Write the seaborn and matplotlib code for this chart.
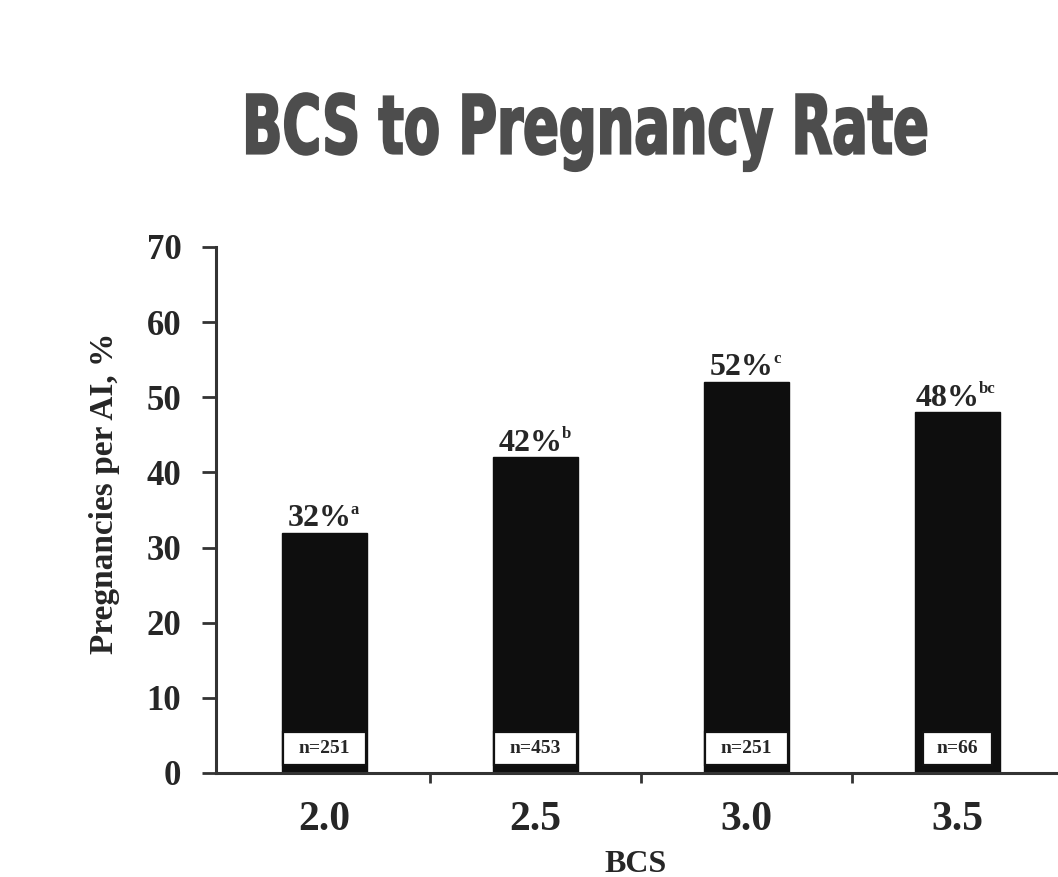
import matplotlib
matplotlib.use("Agg")
import matplotlib.pyplot as plt
from matplotlib.patheffects import AbstractPathEffect
from matplotlib.transforms import Affine2D
from matplotlib.patches import Rectangle
import seaborn as sns
import pandas as pd

# Data
bcs = ["2.0", "2.5", "3.0", "3.5"]
rate = [32, 42, 52, 48]
letters = ["a", "b", "c", "bc"]
counts = [251, 453, 251, 66]
yticks = [0, 10, 20, 30, 40, 50, 60, 70]


class Reshape(AbstractPathEffect):
    """Scale glyph outlines about the text's horizontal centre and baseline,
    optionally thickening them with an outline of the fill colour."""

    def __init__(self, sx=1.0, sy=1.0, stroke=0.0):
        super().__init__()
        self.sx, self.sy, self.stroke = sx, sy, stroke

    def draw_path(self, renderer, gc, tpath, affine, rgbFace=None):
        ext = tpath.get_extents()
        cx = 0.5 * (ext.x0 + ext.x1)
        t = (Affine2D().translate(-cx, 0).scale(self.sx, self.sy)
             .translate(cx, 0) + affine)
        gc0 = renderer.new_gc()
        gc0.copy_properties(gc)
        if self.stroke > 0 and rgbFace is not None:
            gc0.set_linewidth(self.stroke)
            gc0.set_foreground(rgbFace)
            gc0.set_joinstyle("miter")
        renderer.draw_path(gc0, tpath, t, rgbFace)
        gc0.restore()


sns.set_theme(style="white")
plt.rcParams["font.family"] = ["Liberation Serif", "DejaVu Serif"]

TXT = "#262626"
df = pd.DataFrame({"BCS": bcs, "rate": rate})

fig = plt.figure(figsize=(10.58, 8.77), dpi=100)
ax = fig.add_axes([0.2042, 0.1186, 0.7958, 0.5998])

sns.barplot(data=df, x="BCS", y="rate", color="#0e0e0e", width=0.40,
            saturation=1, edgecolor="#0e0e0e", ax=ax)

ax.set_ylim(0, 70)
ax.set_xlim(-0.514, 3.476)
ax.set_yticks(yticks)
ax.set_yticklabels([str(v) for v in yticks], fontsize=25, fontweight="bold",
                   color=TXT)

# tick marks sit between categories; labels sit under the bars
ax.set_xticks([0.5, 1.5, 2.5])
ax.set_xticklabels([])
ax.set_xticks(range(len(bcs)), minor=True)
ax.set_xticklabels(bcs, minor=True, fontsize=30, fontweight="bold", color=TXT)
ax.tick_params(axis="x", which="major", direction="out", length=7, width=2,
               color="#333333", bottom=True)
ax.tick_params(axis="x", which="minor", length=0, pad=20, bottom=True)
ax.tick_params(axis="y", direction="out", length=10, width=2,
               color="#333333", left=True, pad=15)

for side in ["top", "right"]:
    ax.spines[side].set_visible(False)
for side in ["left", "bottom"]:
    ax.spines[side].set_color("#333333")
    ax.spines[side].set_linewidth(2.2)

ax.set_xlabel("BCS", fontsize=23, fontweight="bold", color=TXT)
ax.xaxis.set_label_coords(0.498, -0.146)
ax.set_ylabel("Pregnancies per AI, %", fontsize=24, fontweight="bold",
              color=TXT)
ax.yaxis.set_label_coords(-0.114, 0.532)

# value labels with significance letters
for i, (v, l) in enumerate(zip(rate, letters)):
    main = ax.annotate(f"{v}%", xy=(i, v + 0.9), xytext=(-3.5 * len(l), 0),
                       textcoords="offset points", ha="center",
                       va="baseline", fontsize=23, fontweight="bold",
                       color=TXT)
    ax.annotate(l, xy=(1.0, 0.80), xycoords=main, xytext=(-0.5, 0),
                textcoords="offset points", ha="left", va="center",
                fontsize=12, fontweight="bold", color=TXT)

# sample sizes in white boxes near the base of each bar
for i, n in enumerate(counts):
    label = f"n={n}"
    box_w = 0.063 * len(label) + 0.075
    ax.add_patch(Rectangle((i - box_w / 2, 1.05), box_w, 4.4,
                           facecolor="white", edgecolor="#111111",
                           linewidth=1.6, zorder=3))
    ax.text(i, 3.2, label, ha="center", va="center", fontsize=14,
            fontweight="bold", color=TXT, zorder=4)

title = fig.text(0.553, 0.825, "BCS to Pregnancy Rate", ha="center",
                 va="baseline", fontsize=40, fontweight="bold",
                 color="#4d4d4d", family=["DejaVu Sans"])
title.set_path_effects([Reshape(sx=0.95, sy=1.46, stroke=1.6)])

fig.savefig("out.png", dpi=100, facecolor="white")
